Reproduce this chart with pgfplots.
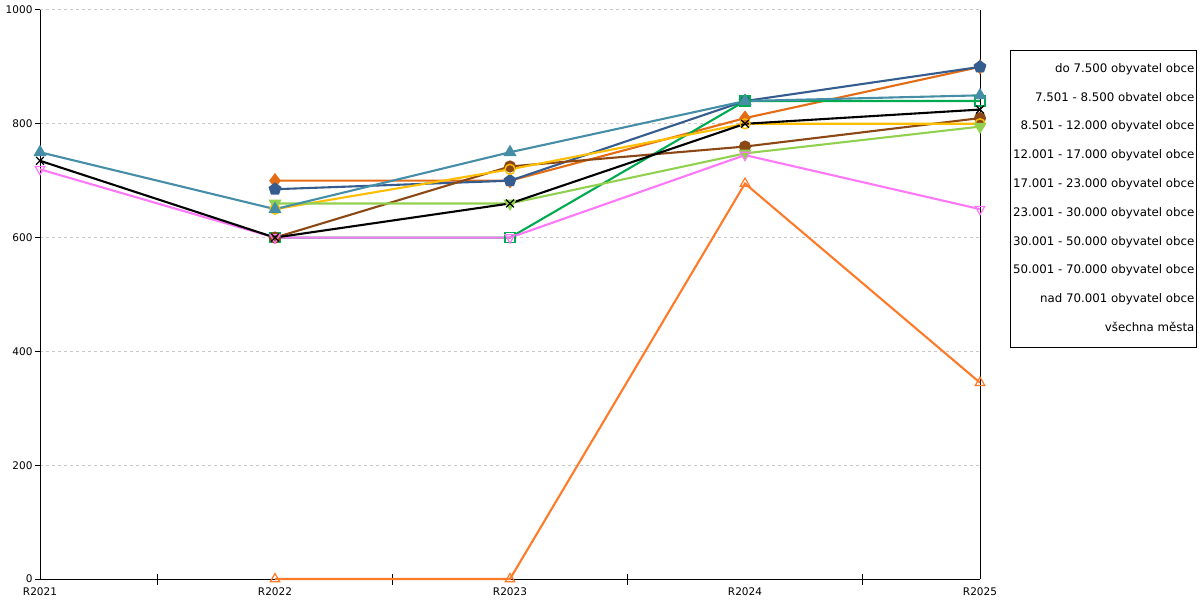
\documentclass[border=0pt]{standalone}
\usepackage{pgfplots}
\pgfplotsset{compat=1.18}
\usetikzlibrary{plotmarks}
\usepackage{fontspec}
\setmainfont{DejaVu Sans}
\definecolor{cteal}{RGB}{70,142,168}
\definecolor{cblue}{RGB}{52,92,142}
\definecolor{corA}{RGB}{228,108,20}
\definecolor{corB}{RGB}{255,122,40}
\definecolor{cpink}{RGB}{255,120,250}
\definecolor{cgreen}{RGB}{0,170,80}
\definecolor{cbrown}{RGB}{140,72,20}
\definecolor{cgold}{RGB}{255,190,0}
\definecolor{clgreen}{RGB}{146,208,80}
\definecolor{cgrid}{RGB}{200,200,200}
\begin{document}
\begin{tikzpicture}
\begin{axis}[
  scale only axis,
  width=940pt, height=569pt,
  xmin=0, xmax=4, ymin=0, ymax=1000,
  clip=false,
  axis x line=bottom, axis y line=box,
  axis line style={-, black, line width=1pt},
  xtick={0,1,2,3,4},
  xticklabels={R2021,R2022,R2023,R2024,R2025},
  minor xtick={0.5,1.5,2.5,3.5},
  x tick style={draw=none},
  minor x tick style={black, line width=1pt, draw=black},
  minor tick length=11pt,
  xtick align=center,
  ytick={0,200,400,600,800,1000},
  ytick pos=left,
  ytick align=outside,
  y tick style={black, line width=1pt},
  major tick length=5pt,
  ymajorgrids,
  grid style={cgrid, dash pattern=on 2.5pt off 3.5pt, line width=1pt},
  tick label style={font=\fontsize{10.5}{12}\selectfont, text=black},
  xticklabel style={anchor=north, yshift=-3pt},
  yticklabel style={xshift=1pt},
  /pgf/number format/assume math mode=true,
  /pgf/number format/1000 sep={},
  legend image code/.code={},
  legend cell align=right,
  legend style={at={(rel axis cs:1.032,0.93)}, anchor=north west,
    draw=black, line width=1pt, inner xsep=2.5pt, inner ysep=13.5pt,
    font=\fontsize{11.8}{13}\selectfont, row sep=17.8pt, column sep=0pt,
    nodes={inner sep=0pt, text height=8.5pt, text depth=2.5pt}},
  every axis plot/.append style={line width=2.1pt, mark size=5.5pt},
]
\addplot[corA, mark=diamond*, mark options={fill=corA, mark size=6pt}] coordinates {(1,700) (2,700) (3,810) (4,900)};
\addlegendentry{do 7.500 obyvatel obce}
\addplot[cblue, mark=pentagon*, mark options={fill=cblue}] coordinates {(1,685) (2,700) (3,840) (4,900)};
\addlegendentry{7.501 - 8.500 obvatel obce}
\addplot[cgreen, mark=square, mark options={line width=1.2pt, mark size=5pt}] coordinates {(1,600) (2,600) (3,840) (4,840)};
\addlegendentry{8.501 - 12.000 obyvatel obce}
\addplot[cbrown, mark=*, mark options={fill=cbrown, mark size=5pt}] coordinates {(1,600) (2,725) (3,760) (4,810)};
\addlegendentry{12.001 - 17.000 obyvatel obce}
\addplot[cgold, mark=o, mark options={line width=1.4pt, mark size=5pt}] coordinates {(1,650) (2,720) (3,800) (4,800)};
\addlegendentry{17.001 - 23.000 obyvatel obce}
\addplot[clgreen, mark=triangle*, mark options={rotate=180, fill=clgreen}] coordinates {(1,660) (2,660) (3,748) (4,795)};
\addlegendentry{23.001 - 30.000 obyvatel obce}
\addplot[cpink, mark=triangle, mark options={rotate=180, line width=1.2pt}] coordinates {(0,720) (1,600) (2,600) (3,745) (4,650)};
\addlegendentry{30.001 - 50.000 obyvatel obce}
\addplot[cteal, mark=triangle*, mark options={fill=cteal}] coordinates {(0,750) (1,650) (2,750) (3,840) (4,850)};
\addlegendentry{50.001 - 70.000 obyvatel obce}
\addplot[corB, mark=triangle, mark options={line width=1.2pt}] coordinates {(1,0) (2,0) (3,695) (4,345)};
\addlegendentry{nad 70.001 obyvatel obce}
\addplot[black, mark=x, mark options={line width=1.2pt, mark size=5.5pt}] coordinates {(0,735) (1,600) (2,660) (3,800) (4,825)};
\addlegendentry{všechna města}
\end{axis}
\pgfresetboundingbox
\path (-40pt,-21pt) rectangle (1160pt,579pt);
\end{tikzpicture}
\end{document}
